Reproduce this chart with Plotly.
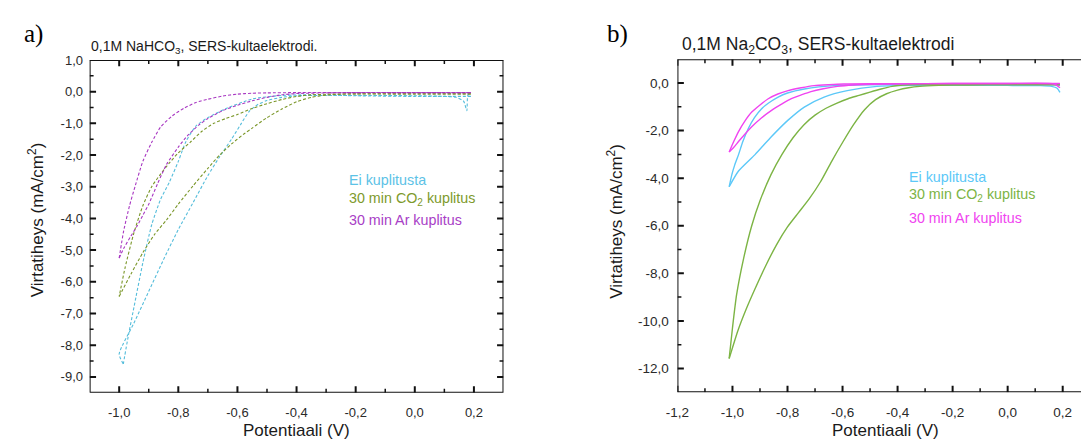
import plotly.graph_objects as go

W, H = 1081, 439

# ---------------- Panel a data: 0,1M NaHCO3 ----------------
a_ei_v1 = [0.19, 0.0, -0.2, -0.35, -0.45, -0.55, -0.64, -0.70, -0.74, -0.774, -0.80, -0.83, -0.86, -0.89, -0.92, -0.95, -0.97, -0.986]
a_ei_j1 = [-0.15, -0.15, -0.13, -0.1, -0.12, -0.23, -0.54, -0.82, -1.08, -1.57, -2.2, -2.85, -3.4, -4.2, -5.4, -6.8, -7.75, -8.59]
a_ei_v2 = [-0.986, -1.0, -0.95, -0.90, -0.85, -0.80, -0.75, -0.70, -0.66, -0.62, -0.59, -0.56, -0.53, -0.50, -0.45, -0.40, -0.3, -0.2, 0.0, 0.10, 0.14, 0.165, 0.176, 0.18, 0.19]
a_ei_j2 = [-8.59, -8.28, -7.3, -6.3, -5.3, -4.35, -3.5, -2.65, -2.05, -1.5, -1.05, -0.62, -0.4, -0.28, -0.18, -0.13, -0.12, -0.12, -0.13, -0.15, -0.18, -0.3, -0.6, -0.1, -0.12]

a_co2_v1 = [0.19, 0.0, -0.2, -0.3, -0.35, -0.40, -0.45, -0.50, -0.55, -0.60, -0.64, -0.68, -0.72, -0.76, -0.80, -0.83, -0.86, -0.89, -0.92, -0.95, -0.98, -1.0]
a_co2_j1 = [-0.07, -0.07, -0.07, -0.08, -0.1, -0.15, -0.25, -0.38, -0.53, -0.72, -0.85, -1.0, -1.25, -1.6, -1.93, -2.25, -2.6, -3.0, -3.6, -4.45, -5.55, -6.46]
a_co2_v2 = [-1.0, -0.96, -0.92, -0.88, -0.84, -0.80, -0.75, -0.70, -0.66, -0.62, -0.58, -0.55, -0.50, -0.45, -0.40, -0.35, -0.30, -0.25, -0.2, 0.0, 0.19]
a_co2_j2 = [-6.46, -5.75, -5.08, -4.5, -4.05, -3.55, -2.97, -2.42, -2.0, -1.65, -1.35, -1.15, -0.82, -0.55, -0.32, -0.18, -0.11, -0.08, -0.07, -0.07, -0.07]

a_ar_v1 = [0.19, 0.1, 0.0, -0.2, -0.4, -0.5, -0.55, -0.6, -0.65, -0.70, -0.74, -0.78, -0.82, -0.86, -0.89, -0.92, -0.945, -0.965, -0.985, -1.0]
a_ar_j1 = [-0.03, -0.03, -0.03, -0.03, -0.03, -0.04, -0.05, -0.08, -0.14, -0.24, -0.34, -0.52, -0.76, -1.12, -1.6, -2.2, -2.95, -3.6, -4.4, -5.25]
a_ar_v2 = [-1.0, -0.985, -0.96, -0.94, -0.92, -0.90, -0.87, -0.84, -0.80, -0.77, -0.73, -0.70, -0.65, -0.60, -0.55, -0.50, -0.45, -0.40, -0.30, -0.2, 0.0, 0.19]
a_ar_j2 = [-5.25, -4.95, -4.55, -4.25, -3.9, -3.55, -2.9, -2.3, -1.75, -1.4, -1.05, -0.85, -0.6, -0.43, -0.29, -0.18, -0.1, -0.06, -0.04, -0.03, -0.03, -0.03]

# ---------------- Panel b data: 0,1M Na2CO3 ----------------
b_ei_v1 = [0.19, 0.17, 0.0, -0.2, -0.4, -0.5, -0.62, -0.739, -0.80, -0.834, -0.87, -0.894, -0.92, -0.942, -0.962, -0.978, -0.992, -1.002, -1.012]
b_ei_j1 = [-0.1, -0.07, -0.06, -0.06, -0.06, -0.07, -0.10, -0.25, -0.42, -0.59, -0.85, -1.08, -1.45, -1.90, -2.45, -3.01, -3.45, -3.84, -4.36]
b_ei_v2 = [-1.012, -0.978, -0.918, -0.858, -0.798, -0.739, -0.667, -0.583, -0.475, -0.35, -0.2, 0.0, 0.12, 0.16, 0.18, 0.19]
b_ei_j2 = [-4.36, -3.70, -3.01, -2.25, -1.56, -1.01, -0.59, -0.32, -0.14, -0.1, -0.1, -0.1, -0.11, -0.14, -0.22, -0.39]

b_co2_v1 = [0.19, 0.0, -0.2, -0.3, -0.38, -0.42, -0.46, -0.50, -0.54, -0.58, -0.62, -0.66, -0.70, -0.74, -0.78, -0.82, -0.86, -0.90, -0.93, -0.96, -0.985, -1.0, -1.012]
b_co2_j1 = [-0.05, -0.05, -0.05, -0.06, -0.08, -0.14, -0.25, -0.38, -0.52, -0.66, -0.84, -1.06, -1.35, -1.75, -2.3, -3.0, -3.85, -4.95, -6.0, -7.4, -8.9, -10.3, -11.58]
b_co2_v2 = [-1.012, -0.98, -0.95, -0.92, -0.88, -0.84, -0.80, -0.76, -0.72, -0.68, -0.64, -0.60, -0.56, -0.52, -0.48, -0.44, -0.40, -0.36, -0.32, -0.25, -0.15, 0.0, 0.19]
b_co2_j2 = [-11.58, -10.4, -9.5, -8.7, -7.7, -6.8, -6.05, -5.45, -4.85, -4.15, -3.3, -2.5, -1.75, -1.12, -0.7, -0.45, -0.3, -0.2, -0.14, -0.1, -0.08, -0.07, -0.07]

b_ar_v1 = [0.19, 0.17, 0.0, -0.2, -0.4, -0.5, -0.595, -0.65, -0.703, -0.75, -0.798, -0.835, -0.870, -0.90, -0.930, -0.955, -0.978, -0.995, -1.012]
b_ar_j1 = [-0.2, -0.04, -0.02, -0.02, -0.03, -0.03, -0.04, -0.07, -0.11, -0.2, -0.32, -0.46, -0.66, -0.92, -1.22, -1.6, -2.04, -2.45, -2.90]
b_ar_v2 = [-1.012, -0.995, -0.978, -0.955, -0.930, -0.895, -0.858, -0.82, -0.786, -0.75, -0.715, -0.67, -0.619, -0.56, -0.5, -0.4, -0.2, 0.0, 0.19]
b_ar_j2 = [-2.90, -2.7, -2.46, -2.15, -1.84, -1.47, -1.15, -0.88, -0.66, -0.5, -0.36, -0.24, -0.14, -0.08, -0.05, -0.03, -0.02, -0.02, -0.02]

# ---------------- tick labels ----------------
a_xticks = [-1.0, -0.8, -0.6, -0.4, -0.2, 0.0, 0.2]
a_xtick_text = ["-1,0", "-0,8", "-0,6", "-0,4", "-0,2", "0,0", "0,2"]
a_yticks = [1.0, 0.0, -1.0, -2.0, -3.0, -4.0, -5.0, -6.0, -7.0, -8.0, -9.0]
a_ytick_text = ["1,0", "0,0", "-1,0", "-2,0", "-3,0", "-4,0", "-5,0", "-6,0", "-7,0", "-8,0", "-9,0"]
b_xticks = [-1.2, -1.0, -0.8, -0.6, -0.4, -0.2, 0.0, 0.2]
b_xtick_text = ["-1,2", "-1,0", "-0,8", "-0,6", "-0,4", "-0,2", "0,0", "0,2"]
b_yticks = [0.0, -2.0, -4.0, -6.0, -8.0, -10.0, -12.0]
b_ytick_text = ["0,0", "-2,0", "-4,0", "-6,0", "-8,0", "-10,0", "-12,0"]
# minor (unlabelled) tick positions
a_xminor = [-0.9, -0.7, -0.5, -0.3, -0.1, 0.1]
a_yminor = [0.5, -0.5, -1.5, -2.5, -3.5, -4.5, -5.5, -6.5, -7.5, -8.5]
b_xminor = [-1.1, -0.9, -0.7, -0.5, -0.3, -0.1, 0.1]
b_yminor = [-1.0, -3.0, -5.0, -7.0, -9.0, -11.0]

legend_labels = ["Ei kuplitusta", "30 min CO<sub>2</sub> kuplitus", "30 min Ar kuplitus"]

# ---------------- styling / layout geometry ----------------
FONT = "Liberation Sans, Arial, sans-serif"
a_cols = ["#55bddb", "#7a9628", "#a838c2"]
a_txt_cols = ["#5cc2e6", "#7e9a2c", "#a840c6"]
b_cols = ["#5cc8f8", "#7cb444", "#f044f0"]
AX = "#111111"

A_XR, A_YR = [-1.1, 0.3], [-9.5, 1.0]
B_XR, B_YR = [-1.2, 0.2665], [-13.0, 1.0]
A_BOX = (78.5, 497.0, 53.8, 392.0)      # left, right, top, bottom in px
B_BOX = (672.9, 1081.0, 53.1, 391.5)
MAJ, MIN = 6.5, 4.0                    # tick lengths in px


def px(x):
    return x / W


def py(y):
    return 1 - y / H


fig = go.Figure()

a_series = [(a_ei_v1, a_ei_j1, a_ei_v2, a_ei_j2),
            (a_co2_v1, a_co2_j1, a_co2_v2, a_co2_j2),
            (a_ar_v1, a_ar_j1, a_ar_v2, a_ar_j2)]
b_series = [(b_ei_v1, b_ei_j1, b_ei_v2, b_ei_j2),
            (b_co2_v1, b_co2_j1, b_co2_v2, b_co2_j2),
            (b_ar_v1, b_ar_j1, b_ar_v2, b_ar_j2)]

for (v1, j1, v2, j2), c in zip(a_series, a_cols):
    for v, j in ((v1, j1), (v2, j2)):
        fig.add_trace(go.Scatter(x=v, y=j, mode="lines", xaxis="x", yaxis="y",
                                 line=dict(color=c, width=1.1, dash="3px,2px", shape="spline", smoothing=0.6),
                                 showlegend=False, hoverinfo="skip"))

for (v1, j1, v2, j2), c in zip(b_series, b_cols):
    for v, j in ((v1, j1), (v2, j2)):
        fig.add_trace(go.Scatter(x=v, y=j, mode="lines", xaxis="x2", yaxis="y2",
                                 line=dict(color=c, width=1.4, shape="spline", smoothing=0.6),
                                 showlegend=False, hoverinfo="skip"))


def frame_traces(xr, yr, box, xt, xm, yt, ym, right, xa, ya):
    """Axis frame and inside ticks, drawn in data units of the panel's own axes."""
    l, r, t, b = box
    ux = (xr[1] - xr[0]) / (r - l)      # data units per px
    uy = (yr[1] - yr[0]) / (b - t)
    if right:
        fx = [xr[0], xr[1], xr[1], xr[0], xr[0]]
        fy = [yr[0], yr[0], yr[1], yr[1], yr[0]]
    else:
        fx = [xr[1], xr[0], xr[0], xr[1]]
        fy = [yr[0], yr[0], yr[1], yr[1]]
    fig.add_trace(go.Scatter(x=fx, y=fy, mode="lines", xaxis=xa, yaxis=ya, cliponaxis=False,
                             line=dict(color=AX, width=2.0), showlegend=False, hoverinfo="skip"))
    for vals, ln, w in ((xt, MAJ, 2.0), (xm, MIN, 1.5)):
        sx, sy = [], []
        for v in vals:
            sx += [v, v, None, v, v, None]
            sy += [yr[0], yr[0] + ln * uy, None, yr[1], yr[1] - ln * uy, None]
        fig.add_trace(go.Scatter(x=sx, y=sy, mode="lines", xaxis=xa, yaxis=ya, cliponaxis=False,
                                 line=dict(color=AX, width=w), showlegend=False, hoverinfo="skip"))
    for vals, ln, w in ((yt, MAJ, 2.0), (ym, MIN, 1.5)):
        sx, sy = [], []
        for v in vals:
            sx += [xr[0], xr[0] + ln * ux, None]
            sy += [v, v, None]
            if right:
                sx += [xr[1], xr[1] - ln * ux, None]
                sy += [v, v, None]
        fig.add_trace(go.Scatter(x=sx, y=sy, mode="lines", xaxis=xa, yaxis=ya, cliponaxis=False,
                                 line=dict(color=AX, width=w), showlegend=False, hoverinfo="skip"))


frame_traces(A_XR, A_YR, A_BOX, a_xticks, a_xminor, a_yticks, a_yminor, True, "x", "y")
frame_traces(B_XR, B_YR, B_BOX, b_xticks, b_xminor, b_yticks, b_yminor, False, "x2", "y2")


def axis(domain, rng, anchor, vals, text, gap, size):
    # transparent outside ticks only set the gap between the frame and the labels
    return dict(domain=domain, range=rng, anchor=anchor, tickmode="array", tickvals=vals, ticktext=text,
                showgrid=False, zeroline=False, showline=False, ticks="outside", ticklen=gap,
                tickcolor="rgba(0,0,0,0)",
                tickfont=dict(family=FONT, size=size, color="#2a2a2a"))


fig.update_layout(
    width=W, height=H, margin=dict(l=0, r=0, t=0, b=0, pad=0),
    paper_bgcolor="white", plot_bgcolor="white",
    xaxis=axis([px(A_BOX[0]), px(A_BOX[1])], A_XR, "y", a_xticks, a_xtick_text, 8, 13),
    yaxis=axis([py(A_BOX[3]), py(A_BOX[2])], A_YR, "x", a_yticks, a_ytick_text, 3, 13),
    xaxis2=axis([px(B_BOX[0]), px(B_BOX[1])], B_XR, "y2", b_xticks, b_xtick_text, 8, 13.5),
    yaxis2=axis([py(B_BOX[3]), py(B_BOX[2])], B_YR, "x2", b_yticks, b_ytick_text, 5, 13.5),
)

ann = []


def add_text(text, x, y, size, color="#1a1a1a", xanchor="center", yanchor="middle", angle=0, family=FONT):
    ann.append(dict(text=text, x=px(x), y=py(y), xref="paper", yref="paper", showarrow=False,
                    xanchor=xanchor, yanchor=yanchor, textangle=angle, borderpad=0,
                    font=dict(family=family, size=size, color=color)))


# panel labels
add_text("a)", 11, 27, 25, color="#000000", xanchor="left", family="Liberation Serif, Times New Roman, serif")
add_text("b)", 601, 27, 25, color="#000000", xanchor="left", family="Liberation Serif, Times New Roman, serif")
# titles
add_text("0,1M NaHCO<sub>3</sub>, SERS-kultaelektrodi.", 79, 41, 14, xanchor="left")
add_text("0,1M Na<sub>2</sub>CO<sub>3</sub>, SERS-kultaelektrodi", 677, 39, 17.5, xanchor="left")
# axis titles
add_text("Potentiaali (V)", 287.7, 430, 17)
add_text("Potentiaali (V)", 882.8, 430, 17)
add_text("Virtatiheys (mA/cm<sup>2</sup>)", 24, 216, 17, angle=-90)
add_text("Virtatiheys (mA/cm<sup>2</sup>)", 609, 218, 17, angle=-90)
# legends
for lbl, c, y in zip(legend_labels, a_txt_cols, [176, 195, 216]):
    add_text(lbl, 340, y, 14.3, color=c, xanchor="left")
for lbl, c, y in zip(legend_labels, b_cols, [172.5, 191.5, 214]):
    add_text(lbl, 906.5, y, 14.3, color=c, xanchor="left")

fig.update_layout(annotations=ann)
fig.write_html("out.html")
